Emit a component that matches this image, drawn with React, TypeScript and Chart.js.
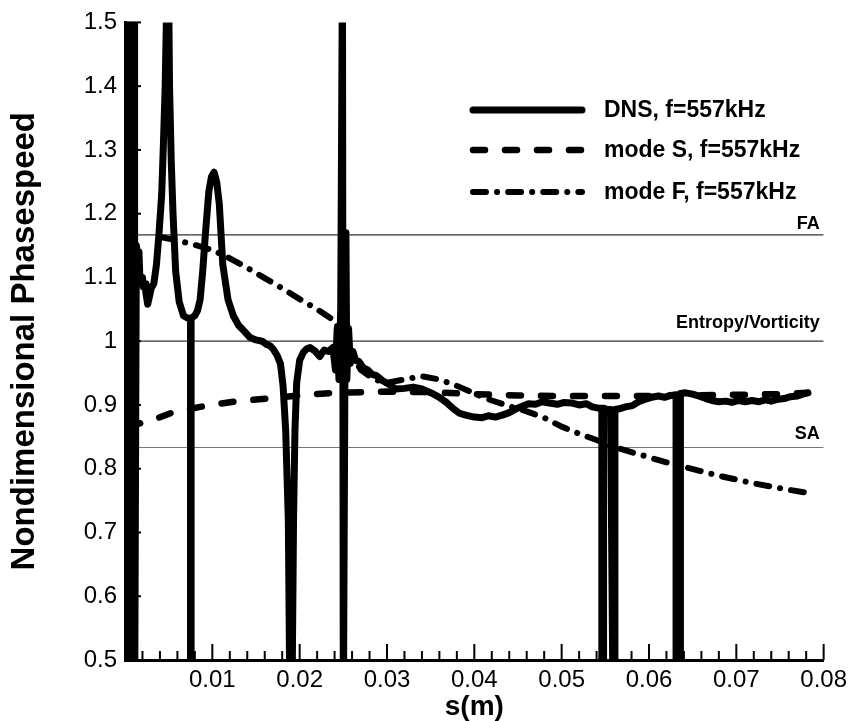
import { useEffect, useRef } from 'react';
import { Chart, registerables } from 'chart.js';

Chart.register(...registerables);

// ---------- data ----------
const dnsX = [
  0.0002, 0.0002, 0.0005, 0.0005, 0.0008, 0.0008, 0.0011, 0.0011, 0.0013, 0.0015,
  0.0016, 0.0017, 0.0019, 0.0020, 0.0021, 0.0023, 0.0024, 0.0026, 0.0028, 0.0030,
  0.0033, 0.0036, 0.0039, 0.0042, 0.0044, 0.0046, 0.0048, 0.0049, 0.0050, 0.0051,
  0.0053, 0.0055, 0.0058, 0.0062, 0.0067, 0.0072, 0.0075, 0.0075, 0.00757, 0.00757,
  0.0080, 0.0083, 0.0086, 0.0089, 0.0092, 0.0096, 0.0099, 0.0102, 0.0105, 0.0108,
  0.0112, 0.0118, 0.0124, 0.0130, 0.0137, 0.0143, 0.0150, 0.0157, 0.0162, 0.0166,
  0.0170, 0.0174, 0.0178, 0.0181, 0.0184, 0.0187, 0.0189, 0.0191, 0.0193, 0.01946,
  0.01966, 0.0200, 0.0204, 0.0208, 0.0212, 0.0218, 0.0223, 0.0228, 0.0233, 0.0238,
  0.0241, 0.0243, 0.0245, 0.0247, 0.0249, 0.0250, 0.0252, 0.0253, 0.0254, 0.0256,
  0.0258, 0.0261, 0.0264, 0.0268, 0.0273, 0.0278, 0.0283, 0.0288, 0.0295, 0.0303,
  0.0310, 0.0320, 0.0330, 0.0340, 0.0352, 0.0360, 0.0368, 0.0376, 0.0383, 0.0390,
  0.0400, 0.0409, 0.0416, 0.0424, 0.0432, 0.0440, 0.0448, 0.0455, 0.0462, 0.0470,
  0.0478, 0.0486, 0.0495, 0.0503, 0.0512, 0.0520, 0.0528, 0.0535, 0.0542, 0.0546,
  0.0546, 0.0548, 0.0548, 0.0552, 0.0556, 0.0559, 0.0561, 0.0561, 0.0566, 0.0573,
  0.0581, 0.0588, 0.0596, 0.0603, 0.0611, 0.0618, 0.0625, 0.0631, 0.0631, 0.0633,
  0.0633, 0.0636, 0.0636, 0.0642, 0.0650, 0.0657, 0.0665, 0.0672, 0.0680, 0.0688,
  0.0695, 0.0703, 0.0710, 0.0718, 0.0726, 0.0733, 0.0740, 0.0748, 0.0755, 0.0762,
  0.0770, 0.0776, 0.0782,
];
const dnsY = [
  0.40, 1.60, 1.60, 0.40, 0.40, 1.60, 1.60, 0.40, 1.15, 1.13,
  1.14, 1.10, 1.095, 1.10, 1.085, 1.09, 1.075, 1.058, 1.07, 1.083,
  1.09, 1.12, 1.17, 1.23, 1.31, 1.40, 1.55, 1.62, 1.55, 1.40,
  1.28, 1.20, 1.11, 1.062, 1.04, 1.036, 1.036, 0.40, 0.40, 1.036,
  1.04, 1.048, 1.065, 1.11, 1.167, 1.235, 1.258, 1.265, 1.25, 1.215,
  1.12, 1.065, 1.04, 1.025, 1.015, 1.006, 1.002, 1.0, 0.995, 0.993,
  0.987, 0.978, 0.965, 0.93, 0.86, 0.72, 0.40, 0.40, 0.72, 0.86,
  0.935, 0.97, 0.982, 0.988, 0.99, 0.984, 0.976, 0.986, 0.984, 0.99,
  0.955, 1.02, 0.94, 1.05, 1.60, 0.40, 1.00, 1.17, 0.94, 1.02,
  0.965, 0.984, 0.97, 0.968, 0.958, 0.955, 0.948, 0.946, 0.938, 0.932,
  0.925, 0.926, 0.928, 0.925, 0.918, 0.912, 0.904, 0.894, 0.887, 0.884,
  0.881, 0.880, 0.883, 0.881, 0.884, 0.888, 0.894, 0.898, 0.902, 0.901,
  0.905, 0.903, 0.901, 0.904, 0.903, 0.900, 0.902, 0.897, 0.895, 0.895,
  0.40, 0.40, 0.895, 0.893, 0.893, 0.40, 0.40, 0.893, 0.894, 0.897,
  0.899, 0.905, 0.909, 0.912, 0.914, 0.912, 0.915, 0.916, 0.40, 0.40,
  0.916, 0.40, 0.918, 0.919, 0.917, 0.914, 0.910, 0.907, 0.905, 0.906,
  0.904, 0.907, 0.905, 0.907, 0.905, 0.908, 0.906, 0.909, 0.910, 0.913,
  0.914, 0.917, 0.919,
];

const modeSX = [0.0004, 0.0029, 0.0054, 0.0086, 0.0124, 0.0162, 0.02, 0.0238, 0.03, 0.035, 0.04, 0.045, 0.05, 0.055, 0.06, 0.065, 0.07, 0.075, 0.0782];
const modeSY = [0.867, 0.875, 0.888, 0.897, 0.905, 0.91, 0.915, 0.919, 0.921, 0.92, 0.917, 0.915, 0.914, 0.914, 0.914, 0.915, 0.916, 0.917, 0.919];

const modeFX = [0.0042, 0.006, 0.008, 0.01, 0.012, 0.014, 0.016, 0.018, 0.02, 0.022, 0.024, 0.0255, 0.027, 0.0285, 0.03, 0.032, 0.034, 0.036, 0.038, 0.04, 0.042, 0.044, 0.046, 0.048, 0.05, 0.052, 0.054, 0.056, 0.058, 0.06, 0.062, 0.064, 0.066, 0.068, 0.07, 0.072, 0.074, 0.076, 0.0782];
const modeFY = [1.163, 1.158, 1.151, 1.143, 1.13, 1.115, 1.099, 1.083, 1.066, 1.05, 1.032, 0.99, 0.955, 0.94, 0.935, 0.94, 0.945, 0.94, 0.93, 0.918, 0.907, 0.898, 0.89, 0.88, 0.866, 0.855, 0.845, 0.834, 0.826, 0.818, 0.81, 0.803, 0.796, 0.789, 0.783, 0.777, 0.772, 0.767, 0.762];

const seriesLabels = ['DNS, f=557kHz', 'mode S, f=557kHz', 'mode F, f=557kHz'];
const refValues = [1.1667, 1.0, 0.8333];
const refLabels = ['FA', 'Entropy/Vorticity', 'SA'];
const xRange = [0, 0.08];
const yRange = [0.5, 1.5];
const xMinorStep = 0.002;
const xMajorStep = 0.01;
const yMajorStep = 0.1;

const FONT = "'Liberation Sans', Arial, Helvetica, sans-serif";

const zip = (xs: number[], ys: number[]) => xs.map((x, i) => ({ x, y: ys[i] }));

const decorPlugin = {
  id: 'decor',
  afterDatasetsDraw(chart: any) {
    const { ctx, chartArea, scales } = chart;
    const xs = scales.x;
    const ys = scales.y;
    ctx.save();
    // inward ticks
    ctx.strokeStyle = '#000';
    ctx.lineWidth = 2;
    const nx = Math.round((xRange[1] - xRange[0]) / xMinorStep);
    const ratio = Math.round(xMajorStep / xMinorStep);
    for (let k = 1; k <= nx; k++) {
      const px = xs.getPixelForValue(xRange[0] + k * xMinorStep);
      const len = k % ratio === 0 ? 16 : 9;
      ctx.beginPath();
      ctx.moveTo(px, chartArea.bottom);
      ctx.lineTo(px, chartArea.bottom - len);
      ctx.stroke();
    }
    const ny = Math.round((yRange[1] - yRange[0]) / yMajorStep);
    for (let k = 0; k <= ny; k++) {
      const py = ys.getPixelForValue(yRange[0] + k * yMajorStep);
      ctx.beginPath();
      ctx.moveTo(chartArea.left, py);
      ctx.lineTo(chartArea.left + 16, py);
      ctx.stroke();
    }
    // reference line labels
    ctx.fillStyle = '#000';
    ctx.font = `bold 18px ${FONT}`;
    ctx.textAlign = 'right';
    ctx.textBaseline = 'alphabetic';
    const gaps = [6, 13, 8];
    refLabels.forEach((t, i) => {
      const py = ys.getPixelForValue(refValues[i]);
      ctx.fillText(t, chartArea.right - 4, py - gaps[i]);
    });
    // legend
    const ds = chart.data.datasets.slice(0, 3);
    const rows = [110, 150, 192];
    ds.forEach((d: any, i: number) => {
      ctx.save();
      ctx.strokeStyle = '#000';
      ctx.lineWidth = d.borderWidth;
      ctx.lineCap = 'round';
      ctx.setLineDash(d.borderDash || []);
      ctx.beginPath();
      ctx.moveTo(473, rows[i]);
      ctx.lineTo(582, rows[i]);
      ctx.stroke();
      ctx.restore();
      ctx.fillStyle = '#000';
      ctx.font = `bold 23px ${FONT}`;
      ctx.textAlign = 'left';
      ctx.textBaseline = 'middle';
      ctx.fillText(d.label, 604, rows[i] + 1);
    });
    ctx.restore();
  },
};

export default function App() {
  const ref = useRef<HTMLCanvasElement | null>(null);
  useEffect(() => {
    document.body.style.margin = '0';
    const canvas = ref.current!;
    const lineBase = { fill: false, pointRadius: 0, tension: 0, borderColor: '#000', clip: 0, borderCapStyle: 'round', borderJoinStyle: 'round' };
    const refSets = refValues.map((v, i) => ({
      ...lineBase,
      label: refLabels[i],
      data: [{ x: xRange[0], y: v }, { x: xRange[1], y: v }],
      borderWidth: 1.2,
      borderColor: i === 2 ? '#777' : '#333',
      borderCapStyle: 'butt',
    }));
    const chart = new Chart(canvas, {
      type: 'line',
      data: {
        datasets: [
          { ...lineBase, label: seriesLabels[0], data: zip(dnsX, dnsY), borderWidth: 7 },
          { ...lineBase, label: seriesLabels[1], data: zip(modeSX, modeSY), borderWidth: 6.5, borderDash: [12, 20] },
          { ...lineBase, label: seriesLabels[2], data: zip(modeFX, modeFY), borderWidth: 6, borderDash: [13, 11, 0.1, 11] },
          ...refSets,
        ] as any,
      },
      options: {
        animation: false,
        responsive: true,
        maintainAspectRatio: false,
        layout: { padding: { top: 20, right: 27, left: 0, bottom: 0 } },
        plugins: { legend: { display: false }, tooltip: { enabled: false } },
        scales: {
          x: {
            type: 'linear',
            min: xRange[0],
            max: xRange[1],
            grid: { display: false, drawTicks: false },
            border: { display: true, width: 3, color: '#000' },
            ticks: {
              stepSize: xMajorStep,
              padding: 6,
              color: '#000',
              font: { family: FONT, size: 24 },
              maxRotation: 0,
              autoSkip: false,
              callback: (v: any) => {
                const n = Number(v);
                return Math.abs(n) < 1e-9 ? '' : n.toFixed(2);
              },
            },
            title: {
              display: true,
              text: 's(m)',
              color: '#000',
              font: { family: FONT, size: 28, weight: 'bold', lineHeight: 1 },
              padding: { top: 0, bottom: 0 },
            },
            afterFit: (s: any) => { s.height = 61; },
          },
          y: {
            type: 'linear',
            min: yRange[0],
            max: yRange[1],
            grid: { display: false, drawTicks: false },
            border: { display: true, width: 3, color: '#000' },
            ticks: {
              stepSize: yMajorStep,
              padding: 8,
              color: '#000',
              font: { family: FONT, size: 24 },
              callback: (v: any) => String(Number(Number(v).toFixed(1))),
            },
            title: {
              display: true,
              text: 'Nondimensional Phasespeed',
              color: '#000',
              font: { family: FONT, size: 33, weight: 'bold', lineHeight: 1.2 },
              padding: { top: 5, bottom: 0 },
            },
            afterFit: (s: any) => { s.width = 125; },
          },
        },
      } as any,
      plugins: [decorPlugin],
    });
    return () => chart.destroy();
  }, []);
  return (
    <div style={{ position: 'fixed', left: 0, top: 0, width: 853, height: 721, background: '#fff' }}>
      <canvas ref={ref} />
    </div>
  );
}
